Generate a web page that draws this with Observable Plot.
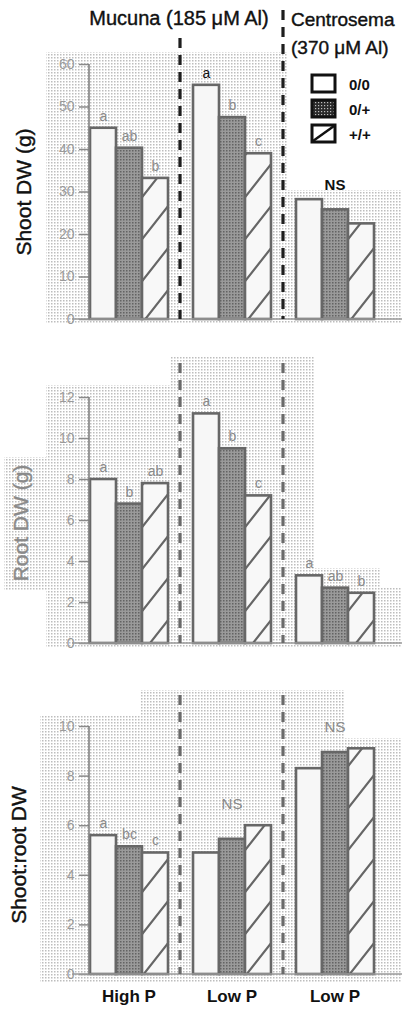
<!DOCTYPE html>
<html>
<head>
<meta charset="utf-8">
<script src="https://cdn.jsdelivr.net/npm/d3@7"></script>
<script src="https://cdn.jsdelivr.net/npm/@observablehq/plot@0.6"></script>
<style>
html, body { margin: 0; padding: 0; background: #fff; }
#chart { position: relative; width: 402px; height: 1009px; overflow: hidden; font-family: "Liberation Sans", Arial, sans-serif; }
#chart svg.panel { position: absolute; left: 0; overflow: visible; }
</style>
</head>
<body>
<svg width="0" height="0" style="position:absolute">
  <defs>
    <pattern id="bgdots" width="3" height="3" patternUnits="userSpaceOnUse">
      <rect width="3" height="3" fill="#ffffff"/>
      <rect width="1.5" height="1.5" fill="#bdbdbd"/>
    </pattern>
    <pattern id="darkdots" width="3" height="3" patternUnits="userSpaceOnUse">
      <rect width="3" height="3" fill="#9a9a9a"/>
      <rect width="1.5" height="1.5" fill="#636363"/>
    </pattern>
    <pattern id="legdark" width="3" height="3" patternUnits="userSpaceOnUse">
      <rect width="3" height="3" fill="#2a2a2a"/>
      <rect width="1.2" height="1.2" fill="#bdbdbd"/>
    </pattern>
    <pattern id="hatch" width="33" height="42" patternUnits="userSpaceOnUse">
      <rect width="33" height="42" fill="#f8f8f8"/>
      <path d="M0,42L33,0M-33,42L0,0M33,84L66,42M-16.5,21L16.5,-21M16.5,63L49.5,21" stroke="#666" stroke-width="2.2"/>
    </pattern>
  </defs>
</svg>
<div id="chart"></div>
<script>
// ---------- data ----------
const treatments = ["0/0", "0/+", "+/+"];
const groups = ["Mucuna High P", "Mucuna Low P", "Centrosema Low P"];
const groupLabels = ["High P", "Low P", "Low P"];

const shootDW = [[45, 40.3, 33.2], [55.1, 47.5, 39], [28.2, 25.8, 22.5]];
const shootLetters = [["a", "ab", "b"], ["a", "b", "c"], ["", "", ""]];
const shootNotes = ["", "", "NS"];
const shootTicks = [0, 10, 20, 30, 40, 50, 60];

const rootDW = [[8.0, 6.8, 7.8], [11.2, 9.5, 7.2], [3.3, 2.7, 2.45]];
const rootLetters = [["a", "b", "ab"], ["a", "b", "c"], ["a", "ab", "b"]];
const rootNotes = ["", "", ""];
const rootTicks = [0, 2, 4, 6, 8, 10, 12];

const ratioDW = [[5.6, 5.15, 4.9], [4.9, 5.45, 6.0], [8.3, 8.95, 9.1]];
const ratioLetters = [["a", "bc", "c"], ["", "", ""], ["", "", ""]];
const ratioNotes = ["", "NS", "NS"];
const ratioTicks = [0, 2, 4, 6, 8, 10];

const yLabels = ["Shoot DW (g)", "Root DW (g)", "Shoot:root DW"];
const headerMucuna = "Mucuna (185 μM Al)";
const headerCentrosema = ["Centrosema", "(370 μM Al)"];

// ---------- helpers ----------
const FONT = '"Liberation Sans", Arial, sans-serif';
function table(values, letters) {
  return groups.flatMap((g, i) => treatments.map((t, j) => ({group: g, t, v: values[i][j], letter: letters[i][j], gi: i, ti: j})));
}
function notesTable(values, notes) {
  return groups.map((g, i) => ({group: g, v: d3.max(values[i]), note: notes[i]})).filter(d => d.note);
}

const chart = document.getElementById("chart");

function panel(cfg) {
  const data = table(cfg.values, cfg.letters);
  const notes = notesTable(cfg.values, cfg.notes);
  const marks = [
    Plot.axisY({ticks: cfg.ticks, tickSize: 10, tickPadding: 5, label: null, fontSize: 14, fill: "#9a9a9a", stroke: "#8a8a8a", strokeWidth: 1.5}),
    Plot.barY(data, {fx: "group", x: "t", y: "v", fill: "t", stroke: "#676767", strokeWidth: 2.6}),
    Plot.text(data.filter(d => d.letter), {
      fx: "group", x: "t", y: "v", text: "letter", dy: -12, fontSize: 14,
      fill: d => (cfg.emph && d.gi === 1 && d.ti === 0) ? "#111" : "#8a8a8a",
      fontWeight: d => (cfg.emph && d.gi === 1 && d.ti === 0) ? "bold" : "normal"
    }),
    Plot.text(notes, {fx: "group", y: "v", text: "note", dy: cfg.noteDy, fontSize: cfg.noteSize, fill: cfg.noteFill, fontWeight: cfg.noteWeight})
  ];
  if (cfg.showFx) {
    marks.push(Plot.axisFx({anchor: "bottom", tickSize: 0, tickPadding: 15, label: null, fontSize: 17, fontWeight: "bold", fill: "#111",
      tickFormat: d => groupLabels[groups.indexOf(d)]}));
  }
  const plot = Plot.plot({
    width: 402,
    height: cfg.height,
    marginTop: cfg.mt,
    marginBottom: cfg.mb,
    marginLeft: 89,
    marginRight: 27,
    style: {fontFamily: FONT, background: "transparent", overflow: "visible"},
    fx: {domain: groups, paddingInner: 0.233, paddingOuter: 0, axis: null, label: null},
    x: {domain: treatments, padding: 0, axis: null},
    y: {domain: [0, d3.max(cfg.ticks)], axis: null},
    color: {domain: treatments, range: ["#f7f7f7", "url(#darkdots)", "url(#hatch)"]},
    marks
  });
  plot.classList.add("panel");
  plot.style.top = cfg.top + "px";
  chart.appendChild(plot);

  const svg = d3.select(plot);
  const y = plot.scale("y");
  const fx = plot.scale("fx");
  const x0 = fx.apply(groups[0]), x1 = fx.apply(groups[1]);
  const step = x1 - x0;
  const bw = fx.bandwidth != null ? fx.bandwidth : step * (1 - 0.233);
  const y0 = y.apply(0), yTop = y.apply(d3.max(cfg.ticks));

  // background halftone (inserted first)
  const bg = svg.insert("g", ":first-child");
  cfg.bgRects.forEach(([a, b, c, d]) => bg.append("rect").attr("x", a).attr("y", b).attr("width", c - a).attr("height", d - b).attr("fill", "url(#bgdots)"));

  const deco = svg.append("g").attr("text-anchor", "start");
  // baseline and axis line
  deco.append("line").attr("x1", 72).attr("x2", 402).attr("y1", y0).attr("y2", y0).attr("stroke", "#9a9a9a").attr("stroke-width", 1.6);
  deco.append("line").attr("x1", 89).attr("x2", 89).attr("y1", yTop).attr("y2", y0).attr("stroke", "#808080").attr("stroke-width", 1.6);
  // dashed dividers
  [1, 2].forEach((k, i) => {
    const xd = fx.apply(groups[k]) - (step - bw) / 2;
    deco.append("line").attr("x1", xd).attr("x2", xd).attr("y1", cfg.divTop[i]).attr("y2", y0)
      .attr("stroke", cfg.divColor).attr("stroke-width", 3.2).attr("stroke-dasharray", "10,7");
  });
  // y label
  deco.append("text").attr("transform", `translate(${cfg.ylab[0]},${cfg.ylab[1]}) rotate(-90)`)
    .attr("text-anchor", "middle").attr("dominant-baseline", "middle")
    .attr("font-size", cfg.ylab[2]).attr("fill", cfg.ylabFill).attr("font-family", FONT)
    .attr("stroke", cfg.ylabFill).attr("stroke-width", 0.4)
    .text(cfg.ylabText);
  return {svg, deco};
}

// ---------- panels ----------
const p1 = panel({
  values: shootDW, letters: shootLetters, notes: shootNotes, ticks: shootTicks,
  top: 0, height: 330, mt: 64, mb: 11, showFx: false, emph: true,
  noteDy: -14, noteSize: 15, noteFill: "#111", noteWeight: "bold",
  divTop: [38, 10], divColor: "#1e1e1e",
  ylab: [25, 192, 21], ylabFill: "#111", ylabText: yLabels[0],
  bgRects: [[46, 52, 288, 323], [288, 190, 402, 323]]
});
const p2 = panel({
  values: rootDW, letters: rootLetters, notes: rootNotes, ticks: rootTicks,
  top: 330, height: 323, mt: 67, mb: 10, showFx: false, emph: false,
  noteDy: -14, noteSize: 15, noteFill: "#888", noteWeight: "normal",
  divTop: [33, 33], divColor: "#6a6a6a",
  ylab: [22, 193, 21], ylabFill: "#8a8a8a", ylabText: yLabels[1],
  bgRects: [[46, 55, 170, 318], [4, 127, 46, 260], [170, 27, 315, 318], [315, 238, 380, 318], [380, 257, 402, 318]]
});
const p3 = panel({
  values: ratioDW, letters: ratioLetters, notes: ratioNotes, ticks: ratioTicks,
  top: 653, height: 356, mt: 73, mb: 35, showFx: true, emph: false,
  noteDy: -22, noteSize: 15, noteFill: "#8a8a8a", noteWeight: "normal",
  divTop: [42, 42], divColor: "#6a6a6a",
  ylab: [20, 202, 21], ylabFill: "#111", ylabText: yLabels[2],
  bgRects: [[40, 62, 140, 330], [140, 37, 345, 330], [345, 85, 402, 330]]
});

// ---------- header and legend (top panel) ----------
const h = p1.deco;
h.append("text").attr("x", 179).attr("y", 25).attr("text-anchor", "middle").attr("font-size", 20)
  .attr("font-family", FONT).attr("fill", "#111").attr("stroke", "#111").attr("stroke-width", 0.4).text(headerMucuna);
headerCentrosema.forEach((s, i) => {
  h.append("text").attr("x", 291).attr("y", 26 + i * 28).attr("text-anchor", "start").attr("font-size", 19)
    .attr("font-family", FONT).attr("fill", "#111").attr("stroke", "#111").attr("stroke-width", 0.4).text(s);
});
const legFill = ["#ffffff", "url(#legdark)", "#ffffff"];
treatments.forEach((t, i) => {
  const yy = 75 + i * 25;
  h.append("rect").attr("x", 312).attr("y", yy).attr("width", 23).attr("height", 17)
    .attr("fill", legFill[i]).attr("stroke", "#111").attr("stroke-width", 3);
  if (i === 2) h.append("line").attr("x1", 313).attr("y1", yy + 16).attr("x2", 334).attr("y2", yy + 1).attr("stroke", "#111").attr("stroke-width", 2.4);
  h.append("text").attr("x", 349).attr("y", yy + 15).attr("text-anchor", "start").attr("font-size", 15).attr("font-weight", "bold")
    .attr("font-family", FONT).attr("fill", "#111").text(t);
});
</script>
</body>
</html>
